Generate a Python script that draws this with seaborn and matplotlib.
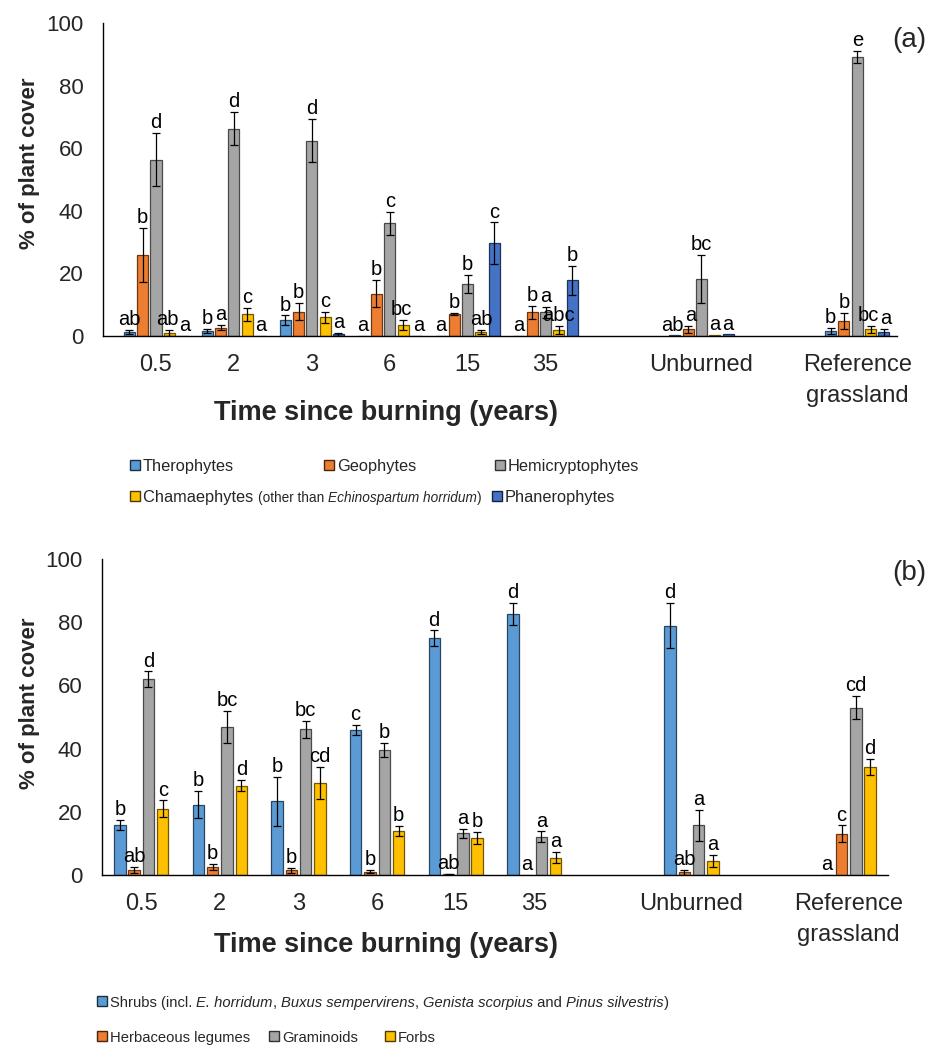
import matplotlib
matplotlib.use("Agg")
import matplotlib.pyplot as plt
import matplotlib.patches as mpatches
import matplotlib.colors as mcolors
from matplotlib.container import BarContainer
from matplotlib import font_manager
import numpy as np
import pandas as pd
import seaborn as sns

nan = np.nan

# x axis slots (the blank ones are empty gaps in the original figure)
slots = ["0.5", "2", "3", "6", "15", "35", "", "Unburned", " ", "Reference\ngrassland"]
sites = ["0.5", "2", "3", "6", "15", "35", "Unburned", "Reference\ngrassland"]

# ---- (a) life forms: mean, SE, letters
life_forms = ["Therophytes", "Geophytes", "Hemicryptophytes", "Chamaephytes", "Phanerophytes"]
life_colors = ["#5B9BD5", "#ED7D31", "#A5A5A5", "#FFC000", "#4472C4"]

thero_mean = [1.2, 1.6, 5.0, 0.0, 0.0, 0.0, 0.2, 1.6]
thero_se = [0.7, 0.7, 1.6, nan, nan, nan, nan, 0.9]
thero_let = ["ab", "b", "b", "a", "a", "a", "ab", "b"]

geo_mean = [25.9, 2.7, 7.8, 13.5, 7.0, 7.6, 2.1, 4.8]
geo_se = [8.7, 0.9, 2.7, 4.3, 0.3, 2.1, 1.0, 2.7]
geo_let = ["b", "a", "b", "b", "b", "b", "a", "b"]

hemi_mean = [56.4, 66.3, 62.5, 36.1, 16.6, 7.6, 18.1, 89.2]
hemi_se = [8.5, 5.3, 7.0, 3.7, 2.8, 1.8, 7.7, 2.0]
hemi_let = ["d", "d", "d", "c", "b", "a", "bc", "e"]

chamae_mean = [1.0, 6.9, 6.0, 3.5, 1.2, 1.9, 0.3, 2.2]
chamae_se = [1.0, 2.1, 1.8, 1.6, 0.7, 1.3, nan, 1.1]
chamae_let = ["ab", "c", "c", "bc", "ab", "abc", "a", "bc"]

phanero_mean = [0.0, 0.0, 0.5, 0.0, 29.6, 17.8, 0.5, 1.2]
phanero_se = [nan, nan, 0.5, nan, 6.7, 4.7, nan, 1.1]
phanero_let = ["a", "a", "a", "a", "c", "b", "a", "a"]

# ---- (b) functional groups
func_groups = ["Shrubs", "Herbaceous legumes", "Graminoids", "Forbs"]
func_colors = ["#5B9BD5", "#ED7D31", "#A5A5A5", "#FFC000"]

shrub_mean = [15.7, 22.3, 23.3, 45.8, 75.0, 82.6, 78.9, 0.0]
shrub_se = [1.6, 4.4, 7.8, 1.6, 2.4, 3.4, 7.1, nan]
shrub_let = ["b", "b", "b", "c", "d", "d", "d", "a"]

legume_mean = [1.5, 2.6, 1.5, 1.05, 0.3, 0.0, 0.85, 13.0]
legume_se = [1.0, 1.0, 0.8, 0.45, 0.15, nan, 0.8, 2.7]
legume_let = ["ab", "b", "b", "b", "ab", "a", "ab", "c"]

gram_mean = [61.9, 46.9, 46.1, 39.6, 13.2, 12.1, 15.7, 53.0]
gram_se = [2.5, 5.1, 2.6, 2.1, 1.5, 1.7, 4.8, 3.6]
gram_let = ["d", "bc", "bc", "b", "a", "a", "a", "cd"]

forb_mean = [21.0, 28.3, 29.2, 13.8, 11.6, 5.5, 4.5, 34.2]
forb_se = [2.6, 1.7, 5.1, 1.6, 1.9, 1.8, 1.9, 2.6]
forb_let = ["c", "d", "cd", "b", "b", "a", "a", "d"]


def long_table(names, means, ses, lets):
    rows = []
    for name, m, s, l in zip(names, means, ses, lets):
        for site, v, e, t in zip(sites, m, s, l):
            rows.append({"site": site, "group": name, "cover": v, "se": e, "letter": t})
    return pd.DataFrame(rows)


df_a = long_table(life_forms,
                  [thero_mean, geo_mean, hemi_mean, chamae_mean, phanero_mean],
                  [thero_se, geo_se, hemi_se, chamae_se, phanero_se],
                  [thero_let, geo_let, hemi_let, chamae_let, phanero_let])
df_b = long_table(func_groups,
                  [shrub_mean, legume_mean, gram_mean, forb_mean],
                  [shrub_se, legume_se, gram_se, forb_se],
                  [shrub_let, legume_let, gram_let, forb_let])


def shade(c, f=0.45):
    r, g, b = mcolors.to_rgb(c)
    return (r * f, g * f, b * f)


sns.set_style("white")
plt.rcParams["font.family"] = ["Liberation Sans", "DejaVu Sans"]
names_avail = {f.name for f in font_manager.fontManager.ttflist}
narrow = "Liberation Sans Narrow" in names_avail
if narrow:
    leg_family = ["Liberation Sans Narrow", "Liberation Sans"]
    size_a, small_a, size_b = 14, 11.5, 12.5
else:
    leg_family = ["Liberation Sans"]
    size_a, small_a, size_b = 11.8, 9.8, 10.6

W, H = 928, 1047
fig = plt.figure(figsize=(W / 100, H / 100), dpi=100)
renderer = fig.canvas.get_renderer()


def fx(px):
    return px / W


def fy(py):
    return 1 - py / H


def spread_letters(anns):
    # push apart neighbouring letters of one group when their boxes touch
    by_site = {}
    for site, xc, ann in anns:
        by_site.setdefault(site, []).append((xc, ann))
    for items in by_site.values():
        items.sort(key=lambda t: t[0])
        for (_, left), (_, right) in zip(items[:-1], items[1:]):
            b1 = left.get_window_extent(renderer)
            b2 = right.get_window_extent(renderer)
            if b1.overlaps(b2):
                over = b1.x1 - b2.x0 + 1
                dpt = over / 2 * 72 / 100
                left.xyann = (left.xyann[0] - dpt, left.xyann[1])
                right.xyann = (right.xyann[0] + dpt, right.xyann[1])


def draw_panel(ax, df, names, colors, width, gap, xlim):
    sns.barplot(data=df, x="site", y="cover", hue="group", order=slots, hue_order=names,
                palette=colors, saturation=1, width=width, gap=gap, errorbar=None,
                legend=False, linewidth=0.9, ax=ax)
    ax.set_ylim(0, 100)
    ax.set_yticks(range(0, 101, 20))
    ax.set_xlim(*xlim)
    anns = []
    bar_conts = [c for c in ax.containers if isinstance(c, BarContainer)]
    for cont in bar_conts:
        fc = mcolors.to_hex(cont.patches[0].get_facecolor())
        name = names[[c.lower() for c in colors].index(fc.lower())]
        for bar in cont.patches:
            bar.set_edgecolor(shade(fc))
            xc = bar.get_x() + bar.get_width() / 2
            site = slots[int(round(xc))]
            row = df[(df.site == site) & (df.group == name)].iloc[0]
            top = row.cover
            if not np.isnan(row.se):
                ax.errorbar(xc, row.cover, yerr=row.se, fmt="none", ecolor="black",
                            elinewidth=0.9, capsize=3.2, capthick=0.9, zorder=4)
                top = row.cover + row.se
            ann = ax.annotate(row.letter, (xc, top), xytext=(0, 3.5), textcoords="offset points",
                              ha="center", va="baseline", fontsize=14.5, color="black")
            anns.append((site, xc, ann))
    ax.set_xlabel("")
    ax.set_ylabel("")
    for s in ["top", "right"]:
        ax.spines[s].set_visible(False)
    for s in ["left", "bottom"]:
        ax.spines[s].set_color("black")
        ax.spines[s].set_linewidth(1)
    ax.tick_params(axis="x", length=0, pad=13, labelsize=17)
    ax.tick_params(axis="y", direction="in", length=4, width=1, pad=14, labelsize=16)
    for lab in ax.get_xticklabels():
        lab.set_linespacing(1.5)
    spread_letters(anns)


ax_a = fig.add_axes([fx(103), fy(336), fx(794), 312.7 / H])
draw_panel(ax_a, df_a, life_forms, life_colors, 0.854, 0.17, (-0.68, 9.51))

ax_b = fig.add_axes([fx(102), fy(875), fx(786), 316 / H])
draw_panel(ax_b, df_b, func_groups, func_colors, 0.728, 0.2, (-0.5, 9.5))

# axis titles and panel tags
for yl, yx in [(163, 413), (703, 945)]:
    fig.text(fx(30), fy(yl), "% of plant cover", rotation=90, fontsize=16,
             weight="bold", ha="center", va="center")
    fig.text(fx(386), fy(yx), "Time since burning (years)", fontsize=19.5,
             weight="bold", ha="center", va="center")
fig.text(fx(926), fy(40), "(a)", fontsize=20, ha="right", va="center")
fig.text(fx(926), fy(573), "(b)", fontsize=20, ha="right", va="center")


def text_width(s, **kw):
    t1 = fig.text(0, 0, "|" + s + "|", **kw)
    t2 = fig.text(0, 0, "||", **kw)
    w = t1.get_window_extent(renderer).width - t2.get_window_extent(renderer).width
    t1.remove()
    t2.remove()
    return w


def rich_text(x_px, y_px, parts):
    x = x_px
    for s, style, size in parts:
        kw = dict(fontsize=size, style=style, family=leg_family)
        fig.text(fx(x), fy(y_px), s, ha="left", va="baseline", **kw)
        x += text_width(s, **kw)


def legend_item(x_px, y_px, color, parts):
    fig.patches.append(mpatches.Rectangle((fx(x_px), fy(y_px + 5)), 10 / W, 10 / H,
                                          transform=fig.transFigure, figure=fig,
                                          facecolor=color, edgecolor=shade(color, 0.3), lw=1))
    rich_text(x_px + 13, y_px + 6, parts)


n, it = "normal", "italic"
legend_item(130, 465, life_colors[0], [("Therophytes", n, size_a)])
legend_item(324, 465, life_colors[1], [("Geophytes", n, size_a)])
legend_item(495, 465, life_colors[2], [("Hemicryptophytes", n, size_a)])
legend_item(130, 496, life_colors[3], [("Chamaephytes ", n, size_a),
                                       ("(other than ", n, small_a),
                                       ("Echinospartum horridum", it, small_a),
                                       (")", n, small_a)])
legend_item(492, 496, life_colors[4], [("Phanerophytes", n, size_a)])

legend_item(97, 1001, func_colors[0], [("Shrubs (incl. ", n, size_b),
                                       ("E. horridum", it, size_b),
                                       (", ", n, size_b),
                                       ("Buxus sempervirens", it, size_b),
                                       (", ", n, size_b),
                                       ("Genista scorpius", it, size_b),
                                       (" and ", n, size_b),
                                       ("Pinus silvestris", it, size_b),
                                       (")", n, size_b)])
legend_item(97, 1036, func_colors[1], [("Herbaceous legumes", n, size_b)])
legend_item(269, 1036, func_colors[2], [("Graminoids", n, size_b)])
legend_item(385, 1036, func_colors[3], [("Forbs", n, size_b)])

fig.savefig("out.png", dpi=100)
